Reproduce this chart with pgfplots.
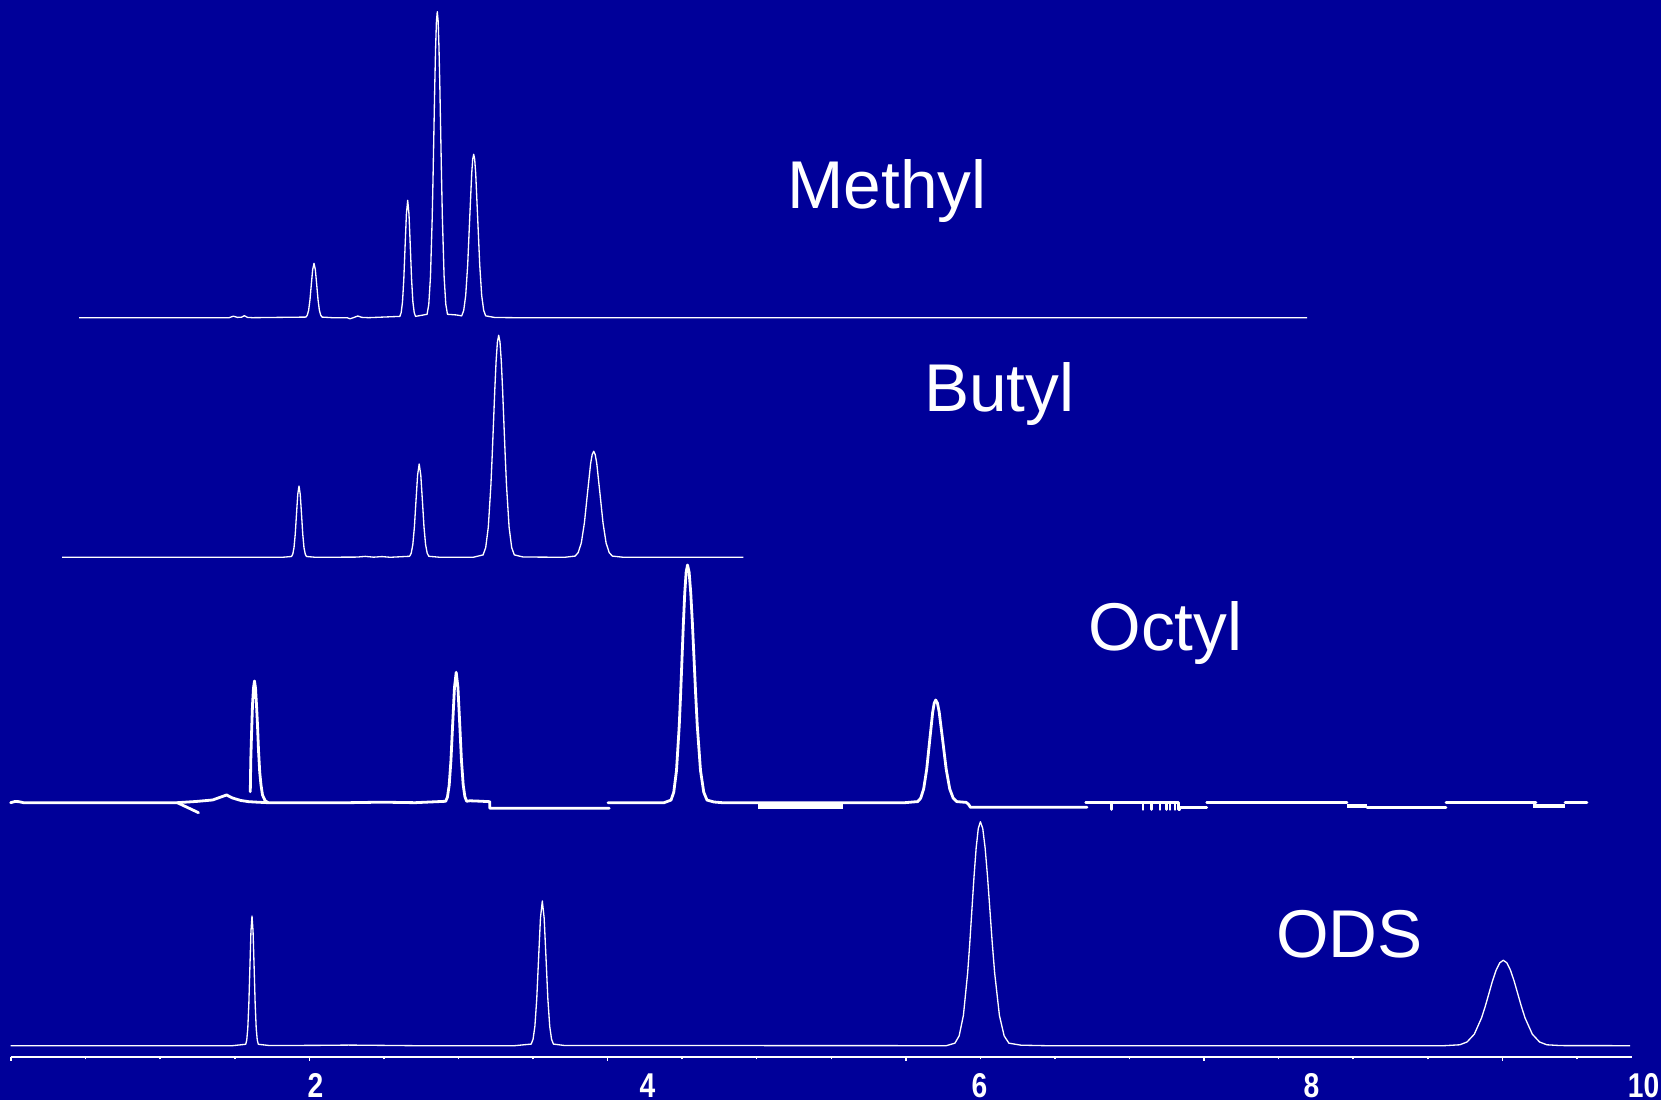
\documentclass[border=0pt]{standalone}
\usepackage{pgfplots}
\pgfplotsset{compat=1.18}
\usepackage{fontspec}
\setmainfont{Liberation Sans}
\definecolor{bg}{RGB}{0,0,153}
\pgfplotsset{
  thin trace/.style={white, line width=0.33pt, line join=round, mark=none},
  thick trace/.style={white, line width=0.7pt, line join=round, line cap=round, mark=none},
}
\newcommand{\tl}[1]{\scalebox{0.82}[1]{#1}}
\begin{document}
\begin{tikzpicture}
\path[use as bounding box, fill=bg] (0,0) rectangle (415.25pt,275pt);
\begin{axis}[
  at={(0pt,10.75pt)}, anchor=south west,
  scale only axis, width=415.25pt, height=264.25pt,
  xmin=0.0994, xmax=10.1054, ymin=0, ymax=1057,
  axis x line=bottom, axis y line=none,
  axis line style={-}, x axis line style={draw=none},
  clip=false,
  xtick={0.166,1.963,3.760,5.557,7.353,9.150},
  minor xtick={0.615,1.064,1.514,2.412,2.861,3.311,4.209,4.658,5.108,6.006,6.455,6.904,7.802,8.251,8.701,9.599},
  xticklabels={},
  tick align=outside,
  major tick length=1pt, minor tick length=0.6pt,
  tick style={white, line width=0.35pt},
  extra x ticks={2,4,6,8,10},
  extra x tick labels={\tl{2},\tl{4},\tl{6},\tl{8},\tl{10}},
  extra x tick style={major tick length=0pt, tick style={draw=none}, xticklabel style={yshift=-0.7pt}},
  tick label style={text=white, font=\fontsize{8.6}{9}\selectfont\bfseries},
]
% x axis line
\addplot[white, line width=0.4pt] coordinates {(0.1633,0) (9.93,0)};

% ---------------- Methyl ----------------
\addplot[thin trace] coordinates {
(0.5753,739.3) (1.48,739.3) (1.5048,740.8) (1.53,739.6) (1.555,739.8) (1.5711,741.3) (1.59,739.6) (1.62,739.3)
(1.9422,739.9) (1.9503,741.7) (1.9585,746.6) (1.9666,757.0) (1.9747,772.3) (1.9829,787.3) (1.9910,793.7) (1.9991,787.3) (2.0073,772.3) (2.0154,757.0) (2.0235,746.6) (2.0317,741.7) (2.0398,739.9)
(2.10,739.3) (2.19,739.3) (2.2078,738.2) (2.23,739.4) (2.2542,741.0) (2.28,739.6) (2.32,739.3)
(2.5084,740.6) (2.5163,744.5) (2.5241,755.1) (2.5319,777.5) (2.5397,810.6) (2.5476,842.8) (2.5554,856.7) (2.5632,842.8) (2.5711,810.6) (2.5789,777.5) (2.5867,755.1) (2.5946,744.5) (2.6024,740.6)
(2.6494,742.0)
(2.6723,742.7) (2.6825,752.7) (2.6927,780.6) (2.7030,838.7) (2.7081,879.4) (2.7132,924.9) (2.7183,970.3) (2.7235,1009.3) (2.7286,1035.9) (2.7337,1045.3) (2.7388,1035.9) (2.7439,1009.3) (2.7491,970.3) (2.7542,924.9) (2.7593,879.4) (2.7644,838.7) (2.7747,780.6) (2.7849,752.7) (2.7951,742.7)
(2.8506,742.0)
(2.8807,741.1) (2.8928,746.5) (2.9048,761.4) (2.9169,792.4) (2.9289,838.5) (2.9410,883.4) (2.9470,897.7) (2.9530,902.7) (2.9590,897.7) (2.9651,883.4) (2.9771,838.5) (2.9892,792.4) (3.0012,761.4) (3.0133,746.5) (3.0253,741.1)
(3.08,739.5) (3.20,739.3) (7.9729,739.3)
};

% ---------------- Butyl ----------------
\addplot[thin trace] coordinates {
(0.4729,499.7) (1.80,499.7)
(1.8554,500.5) (1.8630,502.8) (1.8705,509.3) (1.8780,522.9) (1.8856,543.0) (1.8931,562.6) (1.9006,571.0) (1.9081,562.6) (1.9157,543.0) (1.9232,522.9) (1.9307,509.3) (1.9383,502.8) (1.9458,500.5)
(2.00,499.7) (2.25,499.9) (2.30,500.6) (2.35,499.8) (2.40,500.4) (2.45,499.7)
(2.5669,500.7) (2.5765,503.8) (2.5862,512.3) (2.5958,530.0) (2.6054,556.3) (2.6151,582.0) (2.6247,593.0) (2.6343,582.0) (2.6440,556.3) (2.6536,530.0) (2.6633,512.3) (2.6729,503.8) (2.6825,500.7)
(2.75,499.7) (2.95,499.7)
(3.0096,502.1) (3.0253,509.4) (3.0409,529.7) (3.0566,571.8) (3.0644,601.3) (3.0723,634.3) (3.0801,667.3) (3.0879,695.6) (3.0958,714.9) (3.1036,721.7) (3.1114,714.9) (3.1193,695.6) (3.1271,667.3) (3.1349,634.3) (3.1428,601.3) (3.1506,571.8) (3.1663,529.7) (3.1819,509.4) (3.1976,502.1)
(3.25,500.0) (3.50,499.7)
(3.5639,500.9) (3.5825,504.4) (3.6012,514.0) (3.6199,534.1) (3.6386,564.0) (3.6572,593.2) (3.6666,602.4) (3.6759,605.7) (3.6852,602.4) (3.6946,593.2) (3.7133,564.0) (3.7320,534.1) (3.7506,514.0) (3.7693,504.4) (3.7880,500.9)
(3.85,499.8) (4.5777,499.7)
};

% ---------------- Octyl ----------------
\addplot[thick trace] coordinates {
(0.1633,254.3) (0.19,255.5) (0.215,255.3) (0.24,254.3) (1.1675,254.3) (1.28,255.5) (1.38,257.0) (1.4645,262.0) (1.50,259.0) (1.55,256.5) (1.5982,255.3) (1.65,254.8) (1.7139,254.3) (2.20,254.3) (2.40,254.8) (2.60,254.3)
(2.7844,255.7) (2.7949,260.0) (2.8054,271.9) (2.8160,296.7) (2.8265,333.5) (2.8371,369.3) (2.8476,384.7) (2.8581,369.3) (2.8687,333.5) (2.8792,296.7) (2.8898,271.9) (2.9003,260.0) (2.9108,255.7)
(2.93,256.2) (2.99,255.8) (3.05,255.3) (3.05,248.7) (3.7693,248.7)
};
\addplot[thick trace] coordinates {
(1.6072,265.3) (1.6102,297) (1.6145,322) (1.6205,352) (1.6265,369) (1.6325,376) (1.6386,369) (1.6446,352) (1.6506,332) (1.6566,307) (1.6639,285) (1.6717,272) (1.6807,262) (1.6958,256.5) (1.7139,254.3)
};
\addplot[thick trace] coordinates {(1.1675,254.3) (1.2952,244.3)};
\addplot[thick trace] coordinates {
(3.7620,254.3) (4.10,254.3)
(4.1416,256.9) (4.1582,264.7) (4.1747,286.5) (4.1913,331.5) (4.1996,363.1) (4.2079,398.5) (4.2162,433.7) (4.2244,463.9) (4.2327,484.7) (4.2410,492.0) (4.2508,484.7) (4.2606,463.9) (4.2704,433.7) (4.2802,398.5) (4.2900,363.1) (4.2997,331.5) (4.3193,286.5) (4.3389,264.7) (4.3585,256.9)
(4.40,255.0) (4.45,254.3) (5.55,254.3)
(5.6277,255.4) (5.6458,258.8) (5.6638,268.2) (5.6819,287.7) (5.7000,316.6) (5.7180,344.9) (5.7271,353.8) (5.7361,357.0) (5.7466,353.8) (5.7572,344.9) (5.7783,316.6) (5.7994,287.7) (5.8204,268.2) (5.8415,258.8) (5.8626,255.4)
(5.89,255.0) (5.92,254.6) (5.935,252.5) (5.945,249.7) (6.6476,249.7)
};
\addplot[white, line width=1.2pt] coordinates {(4.6675,250.5) (5.1795,250.5)};
\addplot[thick trace] coordinates {
(6.6398,254.5) (6.7964,254.5) (6.7964,247.5) (6.7964,254.5)
(6.985,254.5) (6.985,247.5) (6.985,254.5) (7.0373,254.5) (7.0373,247.5) (7.0373,254.5)
(7.0873,254.5) (7.0873,247.5) (7.0873,254.5) (7.1277,254.5) (7.1277,247.5) (7.1277,254.5)
(7.1476,254.5) (7.1476,247.5) (7.1476,254.5) (7.1777,254.5) (7.1777,247.5) (7.1777,254.5)
(7.1976,254.5) (7.1976,247.5) (7.2078,247.5) (7.2078,249.5) (7.3687,249.5)
};
\addplot[thick trace] coordinates {(7.3687,254.5) (8.2139,254.5)};
\addplot[white, line width=1.2pt] coordinates {(8.2139,251.0) (8.3343,251.0)};
\addplot[thick trace] coordinates {(8.3343,249.5) (8.8102,249.5)};
\addplot[thick trace] coordinates {(8.8102,254.5) (9.3524,254.5)};
\addplot[white, line width=1.0pt] coordinates {(9.3337,250.5) (9.5271,250.5)};
\addplot[thick trace] coordinates {(9.5271,254.5) (9.6596,254.5)};

% ---------------- ODS ----------------
\addplot[thin trace] coordinates {
(0.1633,11.3) (1.50,11.3)
(1.5796,12.7) (1.5859,17.0) (1.5922,28.8) (1.5985,53.5) (1.6049,90.0) (1.6112,125.7) (1.6175,141.0) (1.6238,125.7) (1.6302,90.0) (1.6365,53.5) (1.6428,28.8) (1.6491,17.0) (1.6555,12.7)
(1.72,11.5) (2.0,11.6) (2.2,11.9) (2.4,11.6) (2.6,11.3) (3.2,11.3)
(3.2994,12.9) (3.3106,17.7) (3.3217,30.8) (3.3329,58.3) (3.3440,99.1) (3.3552,138.9) (3.3663,156.0) (3.3775,138.9) (3.3886,99.1) (3.3997,58.3) (3.4109,30.8) (3.4220,17.7) (3.4332,12.9)
(3.50,11.5) (5.80,11.3)
(5.8518,13.8) (5.8774,21.1) (5.9030,41.6) (5.9286,84.0) (5.9414,113.8) (5.9542,147.2) (5.9670,180.4) (5.9798,208.9) (5.9926,228.4) (6.0054,235.3) (6.0197,228.4) (6.0340,208.9) (6.0483,180.4) (6.0626,147.2) (6.0769,113.8) (6.0913,84.0) (6.1199,41.6) (6.1485,21.1) (6.1771,13.8)
(6.25,11.8) (6.40,11.3) (8.80,11.3)
(8.8934,12.2) (8.9370,15.0) (8.9807,22.8) (9.0244,39.1) (9.0462,50.4) (9.0681,63.1) (9.0899,75.8) (9.1117,86.6) (9.1336,94.1) (9.1554,96.7) (9.1772,94.1) (9.1991,86.6) (9.2209,75.8) (9.2427,63.1) (9.2646,50.4) (9.2864,39.1) (9.3301,22.8) (9.3738,15.0) (9.4175,12.2)
(9.50,11.4) (9.9187,11.3)
};
\end{axis}
\begin{scope}[every node/.style={anchor=base west, inner sep=0pt, text=white, font=\fontsize{16.9}{20}\selectfont}]
\node at (196.7pt,222.9pt) {Methyl};
\node at (230.8pt,172.1pt) {Butyl};
\node at (271.9pt,112.25pt) {Octyl};
\node at (318.8pt,35.6pt) {ODS};
\end{scope}
\end{tikzpicture}
\end{document}
